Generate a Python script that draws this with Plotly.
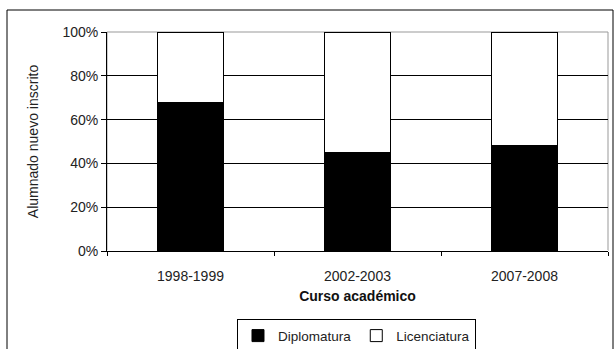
import plotly.graph_objects as go

categories = ["1998-1999", "2002-2003", "2007-2008"]
diplomatura = [68, 45, 48]
licenciatura = [32, 55, 52]
y_ticks = [0, 20, 40, 60, 80, 100]
y_tick_labels = ["0%", "20%", "40%", "60%", "80%", "100%"]

FONT = "Liberation Sans, Arial, sans-serif"

fig = go.Figure()
fig.add_trace(go.Bar(x=categories, y=diplomatura, name="Diplomatura",
                     marker=dict(color="black", line=dict(color="black", width=1))))
fig.add_trace(go.Bar(x=categories, y=licenciatura, name="Licenciatura",
                     marker=dict(color="white", line=dict(color="black", width=1))))

fig.update_layout(
    width=616, height=349,
    barmode="stack", bargap=0.6,
    margin=dict(l=107, r=8, t=32, b=98, autoexpand=False),
    paper_bgcolor="white", plot_bgcolor="white",
    font=dict(family=FONT, size=13, color="#222"),
    showlegend=True,
    legend=dict(orientation="h", x=0.498, xanchor="center", y=-0.312, yanchor="top",
                bordercolor="black", borderwidth=1, bgcolor="white",
                font=dict(size=13.5, color="#222"), itemwidth=30,
                tracegroupgap=0, traceorder="normal"),
    xaxis=dict(
        title=dict(text="<b>Curso académico</b>", font=dict(size=14, color="#111"), standoff=8),
        showline=True, linecolor="black", linewidth=1,
        ticks="outside", tickson="boundaries", ticklen=4, tickcolor="black",
        ticklabelstandoff=12, showgrid=False,
        tickfont=dict(size=14, color="#222"),
    ),
    yaxis=dict(
        title=dict(text="Alumnado nuevo inscrito", font=dict(size=14, color="#222"), standoff=20),
        range=[0, 100], tickvals=y_ticks, ticktext=y_tick_labels,
        showline=True, linecolor="black", linewidth=1,
        ticks="outside", ticklen=5, tickcolor="black",
        showgrid=True, gridcolor="black", gridwidth=1,
        tickfont=dict(size=14, color="#222"),
    ),
    shapes=[
        dict(type="rect", xref="paper", yref="paper", x0=0, x1=1, y0=0, y1=1,
             line=dict(color="#999", width=1), layer="below"),
        dict(type="rect", xref="paper", yref="paper",
             x0=-100/501, x1=(613-107)/501, y0=-(360-251)/219, y1=(251-10)/219,
             line=dict(color="black", width=1), layer="below"),
    ],
)

fig.write_html("out.html")
